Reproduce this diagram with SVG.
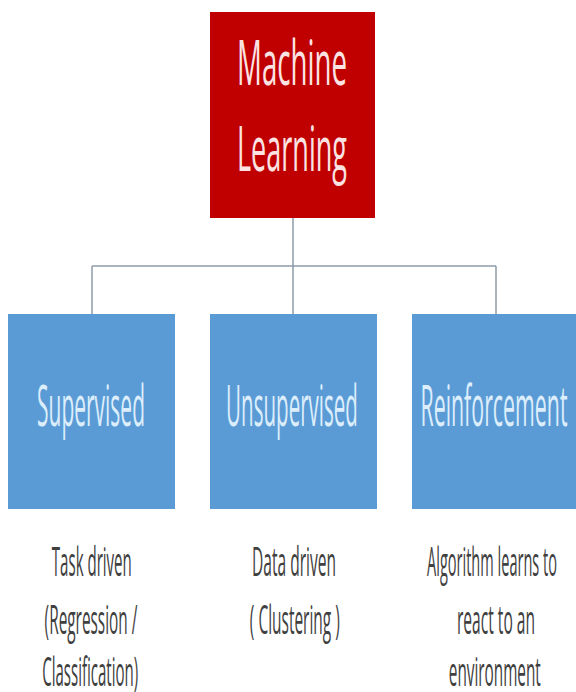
<svg xmlns="http://www.w3.org/2000/svg" width="576" height="692" viewBox="0 0 576 692">
  <style>
    .root { fill: #C00000; }
    .branch { fill: #5B9BD5; }
    .root-label { font-family: "Open Sans", "Liberation Sans", sans-serif; font-size: 63px; fill: #FBE3E3; text-anchor: middle; }
    .branch-label { font-family: "Open Sans", "Liberation Sans", sans-serif; font-size: 57px; fill: #DCEEFC; text-anchor: middle; }
    .note { font-family: "Open Sans", "Liberation Sans", sans-serif; font-size: 40px; fill: #404040; text-anchor: middle; }
    .link { fill: none; stroke: #8C9BAA; stroke-width: 1.5; }
  </style>
  <rect width="576" height="692" fill="#FFFFFF"/>

  <g id="connectors">
    <path class="link" d="M293 218 V266"/>
    <path class="link" d="M92 266 H496"/>
    <path class="link" d="M92 266 V314"/>
    <path class="link" d="M293 266 V314"/>
    <path class="link" d="M496 266 V314"/>
  </g>

  <!-- labels are set in a condensed cut: each line is squeezed horizontally -->
  <g id="machine-learning">
    <rect class="root" x="210" y="12" width="165" height="206"/>
    <g transform="translate(292,85) scale(0.5,1)">
      <text class="root-label" x="0" y="0" textLength="220" lengthAdjust="spacingAndGlyphs">Machine</text>
      <text class="root-label" x="0" y="86" textLength="220" lengthAdjust="spacingAndGlyphs">Learning</text>
    </g>
  </g>

  <g id="supervised">
    <rect class="branch" x="8" y="314" width="167" height="195"/>
    <g transform="translate(91,426) scale(0.38,1)">
      <text class="branch-label" x="0" y="0" textLength="284" lengthAdjust="spacingAndGlyphs">Supervised</text>
    </g>
  </g>

  <g id="unsupervised">
    <rect class="branch" x="210" y="314" width="167" height="195"/>
    <g transform="translate(292,426) scale(0.38,1)">
      <text class="branch-label" x="0" y="0" textLength="347" lengthAdjust="spacingAndGlyphs">Unsupervised</text>
    </g>
  </g>

  <g id="reinforcement">
    <rect class="branch" x="412" y="314" width="170" height="195"/>
    <g transform="translate(494,426) scale(0.38,1)">
      <text class="branch-label" x="0" y="0" textLength="387" lengthAdjust="spacingAndGlyphs">Reinforcement</text>
    </g>
  </g>

  <g id="supervised-note">
    <g transform="translate(91,0) scale(0.4,1)">
      <text class="note" x="2" y="576" textLength="200" lengthAdjust="spacingAndGlyphs">Task driven</text>
      <text class="note" x="0" y="634" textLength="232" lengthAdjust="spacingAndGlyphs">(Regression /</text>
      <text class="note" x="-2" y="686" textLength="240" lengthAdjust="spacingAndGlyphs">Classification)</text>
    </g>
  </g>

  <g id="unsupervised-note">
    <g transform="translate(294,0) scale(0.4,1)">
      <text class="note" x="0" y="576" textLength="210" lengthAdjust="spacingAndGlyphs">Data driven</text>
      <text class="note" x="2" y="634" textLength="225" lengthAdjust="spacingAndGlyphs">( Clustering )</text>
    </g>
  </g>

  <g id="reinforcement-note">
    <g transform="translate(494,0) scale(0.4,1)">
      <text class="note" x="-5" y="576" textLength="325" lengthAdjust="spacingAndGlyphs">Algorithm learns to</text>
      <text class="note" x="5" y="634" textLength="195" lengthAdjust="spacingAndGlyphs">react to an</text>
      <text class="note" x="2" y="686" textLength="230" lengthAdjust="spacingAndGlyphs">environment</text>
    </g>
  </g>
</svg>
